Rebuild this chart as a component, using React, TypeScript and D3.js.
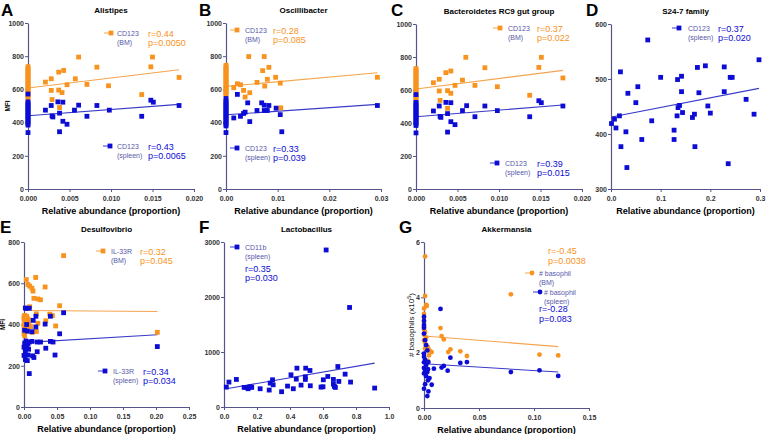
import React, { useRef, useEffect } from "react";
import * as d3 from "d3";

type Pt = [number, number];

const ORANGE = "#f7931e";
const BLUE = "#0c0cd4";
const ORANGE_LINE = "#f5a54f";
const BLUE_LINE = "#3a3ac8";
const AXIS = "#55558c";
const LEGEND_TXT = "#5757aa";
const FONT = "'Liberation Sans', Arial, sans-serif";

// A - Alistipes (CD123)
const alistipesBM: Pt[] = [
  [0, 737], [0, 726], [0, 715], [0, 705], [0, 695], [0, 685], [0, 675], [0, 665], [0, 655], [0, 645],
  [0, 635], [0, 625], [0, 615], [0, 605], [0, 595], [0, 585], [0, 575], [0, 565], [0, 555], [0, 545],
  [0.0061, 795], [0.015, 795], [0.0083, 734], [0.0148, 736], [0.0043, 714], [0.0037, 704], [0.0021, 644],
  [0.0028, 664], [0.0057, 664], [0.0047, 628], [0.0071, 630], [0.0097, 622], [0.0028, 594], [0.0037, 596],
  [0.0041, 581], [0.0029, 539], [0.0038, 491], [0.0137, 569], [0.0182, 672],
];
const alistipesSpleen: Pt[] = [
  [0, 572], [0, 525], [0, 515], [0, 505], [0, 495], [0, 485], [0, 475], [0, 465], [0, 455], [0, 445],
  [0, 435], [0, 425], [0, 415], [0, 405], [0, 395], [0, 385], [0, 340],
  [0.0028, 503], [0.0021, 475], [0.0029, 440], [0.003, 434], [0.0036, 525], [0.0042, 523], [0.0038, 457],
  [0.0042, 408], [0.0047, 390], [0.0038, 345], [0.0056, 475], [0.0061, 505], [0.0071, 438], [0.0083, 503],
  [0.0098, 475], [0.0137, 438], [0.0148, 535], [0.0151, 523], [0.0182, 503],
];
const fitAlistipesBM = [608, 718];
const fitAlistipesSpleen = [441, 510];

// B - Oscillibacter (CD123)
const oscilliBM: Pt[] = [
  [0, 745], [0, 735], [0, 725], [0, 715], [0, 705], [0, 695], [0, 685], [0, 675], [0, 665], [0, 655],
  [0, 645], [0, 635], [0, 625], [0, 615], [0, 605], [0, 595], [0, 585], [0, 575], [0, 565],
  [0.0044, 798], [0.0074, 798], [0.0071, 713], [0.0083, 733], [0.008, 661], [0.006, 642], [0.0096, 673],
  [0.0105, 638], [0.0022, 634], [0.0028, 628], [0.0015, 610], [0.0075, 620], [0.0034, 594], [0.0037, 554],
  [0.0046, 580], [0.0106, 489], [0.0293, 673],
];
const oscilliSpleen: Pt[] = [
  [0, 545], [0, 530], [0, 520], [0, 510], [0, 500], [0, 490], [0, 480], [0, 470], [0, 460], [0, 450],
  [0, 440], [0, 430], [0, 420], [0, 410], [0, 400], [0, 390], [0, 380], [0, 340],
  [0.0022, 570], [0.0042, 519], [0.0069, 519], [0.0074, 505], [0.0083, 503], [0.0015, 428], [0.0028, 438],
  [0.0034, 455], [0.0037, 463], [0.0046, 406], [0.006, 473], [0.0074, 473], [0.008, 473], [0.0097, 487],
  [0.0105, 448], [0.0108, 345], [0.0293, 503],
];
const fitOscilliBM = [618, 700];
const fitOscilliSpleen = [447, 510];

// C - Bacteroidetes RC9 gut group (CD123)
const rc9BM: Pt[] = [
  [0, 730], [0, 720], [0, 710], [0, 700], [0, 690], [0, 680], [0, 670], [0, 660], [0, 650], [0, 640],
  [0, 630], [0, 620], [0, 610], [0, 600], [0, 590], [0, 580], [0, 570], [0, 560], [0, 550], [0, 540],
  [0.006, 798], [0.0151, 798], [0.0083, 735], [0.0148, 737], [0.0042, 715], [0.0036, 705], [0.0021, 644],
  [0.0028, 665], [0.0056, 660], [0.0047, 628], [0.0071, 628], [0.0098, 620], [0.0028, 594], [0.0038, 596],
  [0.0042, 580], [0.0029, 537], [0.0038, 489], [0.0137, 568], [0.0177, 673],
];
const rc9Spleen: Pt[] = [
  [0, 572], [0, 525], [0, 515], [0, 505], [0, 495], [0, 485], [0, 475], [0, 465], [0, 455], [0, 445],
  [0, 435], [0, 425], [0, 415], [0, 405], [0, 395], [0, 385], [0, 340],
  [0.0021, 473], [0.0028, 503], [0.0029, 440], [0.003, 434], [0.0036, 525], [0.0042, 523], [0.0038, 457],
  [0.0042, 408], [0.0047, 390], [0.0038, 345], [0.0056, 475], [0.0061, 505], [0.0071, 438], [0.0083, 503],
  [0.0098, 475], [0.0137, 438], [0.0148, 535], [0.0151, 523], [0.0177, 503],
];
const fitRc9BM = [606, 719];
const fitRc9Spleen = [438, 509];

// D - S24-7 family (CD123 spleen)
const s247Spleen: Pt[] = [
  [0.074, 571], [0.019, 513], [0.1, 503], [0.054, 486], [0.034, 474], [0.05, 457], [0.001, 419], [0.007, 427],
  [0.017, 433], [0.01, 411], [0.082, 424], [0.03, 404], [0.02, 377], [0.062, 390], [0.032, 339], [0.127, 407],
  [0.127, 390], [0.133, 433], [0.138, 452], [0.135, 448], [0.134, 499], [0.142, 505], [0.142, 477],
  [0.144, 439], [0.174, 521], [0.177, 475], [0.19, 524], [0.164, 430], [0.168, 436], [0.169, 377],
  [0.195, 451], [0.2, 438], [0.228, 522], [0.228, 477], [0.24, 503], [0.244, 503], [0.236, 346],
  [0.272, 463], [0.288, 436], [0.298, 535],
];
const fitS247Spleen = [431, 483];

// E - Desulfovibrio (IL-33R)
const desulfoBM: Pt[] = [
  [0.06, 734], [0.0035, 618], [0.0177, 628], [0.006, 594], [0.0086, 586], [0.012, 576], [0.0136, 562],
  [0.032, 582], [0.015, 527], [0.021, 524], [0.025, 520], [0.054, 491], [0.0086, 486], [0.0187, 452],
  [0.039, 450], [0.043, 443], [0.001, 444], [0.005, 430], [0.008, 422], [0.0076, 417], [0.033, 418],
  [0.021, 406], [0.048, 393], [0.005, 367], [0.0126, 362], [0.0187, 366], [0.202, 362], [0, 436], [0, 425],
  [0.002, 410], [0, 400], [0.003, 390], [0.01, 390], [0, 378], [0, 355], [0.001, 345], [0.004, 440], [0.007, 400],
];
const desulfoSpleen: Pt[] = [
  [0.002, 480], [0.0035, 478], [0.008, 479], [0.06, 457], [0.04, 440], [0.018, 440], [0.014, 420],
  [0.004, 400], [0.032, 402], [0.018, 388], [0.001, 372], [0.012, 365], [0.005, 368], [0.054, 355],
  [0.003, 320], [0.008, 315], [0.012, 318], [0.02, 315], [0.025, 315], [0.04, 318], [0.044, 315],
  [0.001, 310], [0.006, 305], [0, 290], [0.004, 285], [0.033, 285], [0.007, 280], [0.002, 270], [0.02, 268],
  [0, 250], [0.006, 252], [0.013, 248], [0.015, 240], [0.047, 252], [0.002, 230], [0.005, 225],
  [0.008, 162], [0.202, 293],
];
const fitDesulfoBM = [468, 463];
const fitDesulfoSpleen = [312, 350];

// F - Lactobacillus (CD11b spleen)
const lactoSpleen: Pt[] = [
  [0.014, 362], [0.03, 453], [0.075, 501], [0.122, 356], [0.136, 356], [0.146, 332], [0.158, 368],
  [0.168, 356], [0.219, 332], [0.274, 308], [0.28, 435], [0.294, 495], [0.298, 404], [0.349, 278],
  [0.385, 380], [0.406, 585], [0.42, 332], [0.438, 507], [0.442, 706], [0.467, 398], [0.493, 549],
  [0.493, 501], [0.495, 706], [0.521, 664], [0.523, 386], [0.588, 362], [0.6, 368], [0.602, 495],
  [0.629, 555], [0.663, 501], [0.663, 416], [0.669, 374], [0.675, 356], [0.69, 736], [0.696, 465],
  [0.734, 597], [0.767, 453], [0.913, 344], [0.619, 2855], [0.761, 1810],
];
const fitLactoSpleen = [332, 797];

// G - Akkermansia (# basophils x10^5)
const akkerBM: Pt[] = [
  [0.001, 5.48], [0.001, 4.05], [0.002, 3.73], [0.0025, 3.69], [0, 3.6], [0, 3.4], [0, 3.25], [0, 3.1],
  [0, 2.95], [0, 2.85], [0.001, 2.75], [0, 2.65], [0.002, 2.55], [0, 2.45], [0.001, 2.35], [0.002, 2.25],
  [0.001, 2.15], [0.003, 2.1], [0.0036, 2.2], [0.005, 2.08], [0.007, 2.02], [0.0045, 1.9], [0.0036, 1.7],
  [0.015, 2.89], [0.016, 2.6], [0.018, 2.48], [0.022, 2.02], [0.024, 2.12], [0.033, 2.05], [0.039, 1.88],
  [0.079, 4.11], [0.105, 1.93], [0.122, 1.9],
];
const akkerSpleen: Pt[] = [
  [0.015, 3.58], [0, 3.3], [0, 3.15], [0, 3.0], [0, 2.9], [0, 2.69], [0.001, 2.45], [0.002, 2.27],
  [0.003, 2.08], [0, 1.96], [0, 1.85], [0.001, 1.75], [0, 1.65], [0.002, 1.55], [0, 1.45], [0.001, 1.35],
  [0.003, 1.3], [0, 1.25], [0.002, 1.15], [0.004, 1.66], [0.0036, 1.4], [0.009, 1.42], [0.016, 1.46],
  [0.018, 1.52], [0.0215, 1.35], [0.024, 1.82], [0.033, 1.63], [0.039, 1.66], [0.079, 1.3], [0.105, 1.36],
  [0.122, 1.16], [0.005, 1.08], [0.0036, 1.0], [0.001, 0.86], [0.007, 0.84], [0, 0.7], [0.004, 0.6],
  [0.003, 0.43],
];
const fitAkkerBM = [2.6, 2.22];
const fitAkkerSpleen = [1.6, 1.3];

// tick values
const ticksX020 = [0, 0.005, 0.01, 0.015, 0.02];
const ticksX03 = [0, 0.01, 0.02, 0.03];
const ticksX3 = [0, 0.1, 0.2, 0.3];
const ticksX25 = [0, 0.05, 0.1, 0.15, 0.2, 0.25];
const ticksX1 = [0, 0.2, 0.4, 0.6, 0.8, 1.0];
const ticksX15 = [0, 0.05, 0.1, 0.15];
const ticksY1000 = [0, 200, 400, 600, 800, 1000];
const ticksY600 = [300, 400, 500, 600];
const ticksY800 = [0, 200, 400, 600, 800];
const ticksY3000 = [0, 1000, 2000, 3000];
const ticksY6 = [0, 2, 4, 6];

const panels = [
  {
    letter: "A", lx: 1, ly: 16, title: "Alistipes",
    box: [28, 194, 23, 189], xDomain: [0, 0.02], xTicks: ticksX020, xFmt: ".3f",
    yDomain: [0, 1000], yTicks: ticksY1000, yLabel: "MFI", yLabelX: 6,
    series: [
      { data: alistipesBM, fit: fitAlistipesBM, color: ORANGE, line: ORANGE_LINE, shape: "square" },
      { data: alistipesSpleen, fit: fitAlistipesSpleen, color: BLUE, line: BLUE_LINE, shape: "square" },
    ],
    legend: [
      { mx: 111, my: 33, color: ORANGE, line: ORANGE_LINE, shape: "square", name: "CD123", sub: "(BM)", tx: 117 },
      { mx: 110, my: 146, color: BLUE, line: BLUE_LINE, shape: "square", name: "CD123", sub: "(spleen)", tx: 117 },
    ],
    stats: [
      { x: 148, y: 36.5, color: ORANGE, r: "r=0.44", p: "p=0.0050" },
      { x: 148, y: 149.5, color: BLUE, r: "r=0.43", p: "p=0.0065" },
    ],
  },
  {
    letter: "B", lx: 199, ly: 16, title: "Oscillibacter",
    box: [226, 381, 23, 189], xDomain: [0, 0.03], xTicks: ticksX03, xFmt: ".2f",
    yDomain: [0, 1000], yTicks: ticksY1000, yLabel: "", yLabelX: 0,
    series: [
      { data: oscilliBM, fit: fitOscilliBM, color: ORANGE, line: ORANGE_LINE, shape: "square" },
      { data: oscilliSpleen, fit: fitOscilliSpleen, color: BLUE, line: BLUE_LINE, shape: "square" },
    ],
    legend: [
      { mx: 237, my: 30, color: ORANGE, line: ORANGE_LINE, shape: "square", name: "CD123", sub: "(BM)", tx: 245 },
      { mx: 237, my: 148, color: BLUE, line: BLUE_LINE, shape: "square", name: "CD123", sub: "(spleen)", tx: 245 },
    ],
    stats: [
      { x: 273, y: 33.5, color: ORANGE, r: "r=0.28", p: "p=0.085" },
      { x: 273, y: 151.5, color: BLUE, r: "r=0.33", p: "p=0.039" },
    ],
  },
  {
    letter: "C", lx: 391, ly: 16, title: "Bacteroidetes RC9 gut group",
    box: [416, 582, 24, 189], xDomain: [0, 0.02], xTicks: ticksX020, xFmt: ".3f",
    yDomain: [0, 1000], yTicks: ticksY1000, yLabel: "", yLabelX: 0,
    series: [
      { data: rc9BM, fit: fitRc9BM, color: ORANGE, line: ORANGE_LINE, shape: "square" },
      { data: rc9Spleen, fit: fitRc9Spleen, color: BLUE, line: BLUE_LINE, shape: "square" },
    ],
    legend: [
      { mx: 500, my: 28, color: ORANGE, line: ORANGE_LINE, shape: "square", name: "CD123", sub: "(BM)", tx: 508 },
      { mx: 497, my: 163, color: BLUE, line: BLUE_LINE, shape: "square", name: "CD123", sub: "(spleen)", tx: 505 },
    ],
    stats: [
      { x: 537, y: 31.5, color: ORANGE, r: "r=0.37", p: "p=0.022" },
      { x: 537, y: 166.5, color: BLUE, r: "r=0.39", p: "p=0.015" },
    ],
  },
  {
    letter: "D", lx: 586, ly: 16, title: "S24-7 family",
    box: [611, 760, 24, 189], xDomain: [0, 0.3], xTicks: ticksX3, xFmt: ".1f",
    yDomain: [300, 600], yTicks: ticksY600, yLabel: "", yLabelX: 0,
    series: [{ data: s247Spleen, fit: fitS247Spleen, color: BLUE, line: BLUE_LINE, shape: "square" }],
    legend: [
      { mx: 679, my: 28, color: BLUE, line: BLUE_LINE, shape: "square", name: "CD123", sub: "(spleen)", tx: 688 },
    ],
    stats: [{ x: 718, y: 31.5, color: BLUE, r: "r=0.37", p: "p=0.020" }],
  },
  {
    letter: "E", lx: 0, ly: 233, title: "Desulfovibrio",
    box: [24, 189, 242, 407], xDomain: [0, 0.25], xTicks: ticksX25, xFmt: ".2f",
    yDomain: [0, 800], yTicks: ticksY800, yLabel: "MFI", yLabelX: 1,
    series: [
      { data: desulfoBM, fit: fitDesulfoBM, color: ORANGE, line: ORANGE_LINE, shape: "square" },
      { data: desulfoSpleen, fit: fitDesulfoSpleen, color: BLUE, line: BLUE_LINE, shape: "square" },
    ],
    legend: [
      { mx: 103, my: 251, color: ORANGE, line: ORANGE_LINE, shape: "square", name: "IL-33R", sub: "(BM)", tx: 111 },
      { mx: 105, my: 371, color: BLUE, line: BLUE_LINE, shape: "square", name: "IL-33R", sub: "(spleen)", tx: 113 },
    ],
    stats: [
      { x: 140, y: 254.5, color: ORANGE, r: "r=0.32", p: "p=0.045" },
      { x: 143, y: 374.5, color: BLUE, r: "r=0.34", p: "p=0.034" },
    ],
  },
  {
    letter: "F", lx: 199, ly: 233, title: "Lactobacillus",
    box: [224, 389, 242, 407], xDomain: [0, 1.0], xTicks: ticksX1, xFmt: ".1f",
    yDomain: [0, 3000], yTicks: ticksY3000, yLabel: "", yLabelX: 0,
    series: [{ data: lactoSpleen, fit: fitLactoSpleen, color: BLUE, line: BLUE_LINE, shape: "square" }],
    legend: [
      { mx: 237, my: 247, color: BLUE, line: BLUE_LINE, shape: "square", name: "CD11b", sub: "(spleen)", tx: 245 },
    ],
    stats: [{ x: 245, y: 271.5, color: BLUE, r: "r=0.35", p: "p=0.030" }],
  },
  {
    letter: "G", lx: 399, ly: 233, title: "Akkermansia",
    box: [424, 589, 242, 408], xDomain: [0, 0.15], xTicks: ticksX15, xFmt: ".2f",
    yDomain: [0, 6], yTicks: ticksY6, yLabel: "basophils", yLabelX: 411,
    series: [
      { data: akkerBM, fit: fitAkkerBM, color: ORANGE, line: ORANGE_LINE, shape: "circle" },
      { data: akkerSpleen, fit: fitAkkerSpleen, color: BLUE, line: BLUE_LINE, shape: "circle" },
    ],
    legend: [
      { mx: 532, my: 273, color: ORANGE, line: ORANGE_LINE, shape: "circle", name: "# basophil", sub: "(BM)", tx: 539 },
      { mx: 540, my: 292, color: BLUE, line: BLUE_LINE, shape: "circle", name: "# basophil", sub: "(spleen)", tx: 544 },
    ],
    stats: [
      { x: 548, y: 254, color: ORANGE, r: "r=-0.45", p: "p=0.0038" },
      { x: 539, y: 312, color: BLUE, r: "r=-0.28", p: "p=0.083" },
    ],
  },
];

const drawMarker = (g: any, shape: string, cx: number, cy: number, color: string) => {
  if (shape === "circle") {
    g.append("circle").attr("cx", cx).attr("cy", cy).attr("r", 2.4).attr("fill", color);
  } else {
    g.append("rect").attr("x", cx - 2.4).attr("y", cy - 2.4).attr("width", 4.8).attr("height", 4.8).attr("fill", color);
  }
};

const App = () => {
  const svgRef = useRef<SVGSVGElement>(null);

  useEffect(() => {
    const svg = d3.select(svgRef.current);
    svg.selectAll("*").remove();

    panels.forEach((p) => {
      const [left, right, top, bottom] = p.box;
      const g = svg.append("g");
      const x = d3.scaleLinear().domain(p.xDomain).range([left, right]);
      const y = d3.scaleLinear().domain(p.yDomain).range([bottom, top]);

      // panel letter + title
      g.append("text").attr("x", p.lx).attr("y", p.ly).attr("font-size", 17).attr("font-weight", "bold")
        .attr("font-family", FONT).text(p.letter);
      g.append("text").attr("x", (left + right) / 2).attr("y", top - 10).attr("text-anchor", "middle")
        .attr("font-size", 8).attr("font-weight", "bold").attr("font-family", FONT).text(p.title);

      // axes
      const xAxis = g.append("g").attr("transform", `translate(0,${bottom})`)
        .call(d3.axisBottom(x).tickValues(p.xTicks).tickFormat(d3.format(p.xFmt)).tickSizeInner(3).tickSizeOuter(0));
      const yAxis = g.append("g").attr("transform", `translate(${left},0)`)
        .call(d3.axisLeft(y).tickValues(p.yTicks).tickFormat(d3.format("d")).tickSizeInner(3).tickSizeOuter(0));
      [xAxis, yAxis].forEach((a) => {
        a.select(".domain").attr("stroke", AXIS).attr("stroke-width", 1.2);
        a.selectAll(".tick line").attr("stroke", AXIS).attr("stroke-width", 1);
        a.selectAll(".tick text").attr("fill", "#333").attr("font-size", 7).attr("font-weight", "bold")
          .attr("font-family", FONT);
      });
      xAxis.selectAll(".tick text").attr("dy", "0.9em");
      yAxis.selectAll(".tick text").attr("x", -4);

      // axis labels
      g.append("text").attr("x", (left + right) / 2).attr("y", bottom + 25).attr("text-anchor", "middle")
        .attr("font-size", 9).attr("font-weight", "bold").attr("font-family", FONT)
        .text("Relative abundance (proportion)");
      if (p.yLabel === "MFI") {
        g.append("text").attr("transform", `translate(${p.yLabelX + 4},${(top + bottom) / 2}) rotate(-90)`)
          .attr("text-anchor", "middle").attr("font-size", 6.5).attr("font-weight", "bold")
          .attr("font-family", FONT).text("MFI");
      } else if (p.yLabel) {
        const t = g.append("text").attr("transform", `translate(${p.yLabelX + 3},${(top + bottom) / 2}) rotate(-90)`)
          .attr("text-anchor", "middle").attr("font-size", 8).attr("font-family", FONT).attr("fill", "#222");
        t.append("tspan").text("# basophils (x10");
        t.append("tspan").attr("font-size", 5.5).attr("dy", -3).text("5");
        t.append("tspan").attr("dy", 3).text(")");
      }

      // regression lines
      p.series.forEach((s) => {
        const [x0, x1] = d3.extent(s.data, (d) => d[0]) as [number, number];
        g.append("line").attr("x1", x(x0)).attr("y1", y(s.fit[0])).attr("x2", x(x1)).attr("y2", y(s.fit[1]))
          .attr("stroke", s.line).attr("stroke-width", 1.1);
      });

      // points
      p.series.forEach((s) => {
        const pg = g.append("g");
        s.data.forEach((d) => drawMarker(pg, s.shape, x(d[0]), y(d[1]), s.color));
      });

      // legend
      p.legend.forEach((l) => {
        g.append("line").attr("x1", l.mx - 7).attr("x2", l.mx + 1).attr("y1", l.my).attr("y2", l.my)
          .attr("stroke", l.line).attr("stroke-width", 1);
        drawMarker(g, l.shape, l.mx, l.my, l.color);
        g.append("text").attr("x", l.tx).attr("y", l.my + 3).attr("font-size", 7).attr("fill", LEGEND_TXT)
          .attr("font-family", FONT).text(l.name);
        g.append("text").attr("x", l.tx).attr("y", l.my + 11.5).attr("font-size", 7).attr("fill", LEGEND_TXT)
          .attr("font-family", FONT).text(l.sub);
      });
      p.stats.forEach((st) => {
        g.append("text").attr("x", st.x).attr("y", st.y).attr("font-size", 9).attr("fill", st.color)
          .attr("font-family", FONT).text(st.r);
        g.append("text").attr("x", st.x).attr("y", st.y + 9.5).attr("font-size", 9).attr("fill", st.color)
          .attr("font-family", FONT).text(st.p);
      });
    });
  }, []);

  return (
    <svg ref={svgRef} width={777} height={434}
      style={{ position: "absolute", left: 0, top: 0, background: "#fff" }} />
  );
};

export default App;
